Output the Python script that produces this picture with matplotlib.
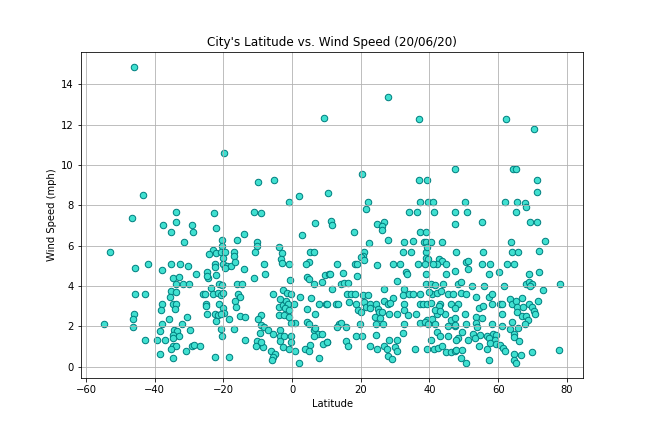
import matplotlib
matplotlib.use("Agg")
import matplotlib.pyplot as plt

# latitude / wind speed pairs
lat = [
    -46.0, -43.4, -33.8,
    -46.6, -53.0, -45.7, -41.8, -45.8, -42.8, -46.0, -46.3, -54.8, -46.3, -42.8,
    -37.7, -33.8, -29.1, -35.2, -28.8, -31.4, -37.9, -35.2, -32.6, -30.3, -28.1,
    -34.7, -32.9, -33.8, -31.7, -30.0, -35.2, -33.8, -35.5, -26.0, -37.9, -34.7,
    -33.8, -38.2, -34.1, -35.8, -30.6, -37.9, -32.0, -38.4, -34.4, -33.5, -29.7,
    -34.7, -32.9, -34.7, -39.3, -37.0, -34.7, -33.8, -35.2, -29.1, -28.5, -26.8,
    -30.9, -38.4, -34.7,
    9.4, -19.8, -9.9, -5.2, -0.9, 2.1, 10.4, -22.7, -11.0, -9.0,
    -22.1, -14.0, -16.0, -20.4, -10.2, -10.2, -10.8, -20.4, -23.0, -24.2, -22.1,
    -20.7, -19.5, -16.9, -16.9, -20.1, -22.4, -22.4, -20.1, -18.9, -17.7, -16.6,
    -19.5, -14.0, -22.1, -24.7, -24.4, -24.7, -11.0, -8.1, -7.8, -3.8, -2.9, -3.2,
    -2.9, -0.8, -0.6, 2.9, 6.7, 5.3, 6.4, 5.0, 4.1, 4.4, 5.0, 6.4, 8.8, 9.6, 10.8,
    -21.2, -20.4, -23.6, -25.3, -23.0, -21.5, -20.7, -20.1, -16.0, -14.5, -15.7,
    -15.1, -16.6, -16.3, -21.2, -25.0, -25.0, -20.1, -19.8, -24.7, -22.4, -21.5,
    -20.7, -22.1, -18.3, -15.1, -13.7, -20.7, -20.4, -16.9, -13.7, -22.4, -18.3,
    -5.5, -2.6, -1.4, -0.3, -3.5, -3.8, -2.6, -1.7, -1.1, -2.0, -0.8, -3.8, -2.4,
    -0.8, 0.6, 0.9, -0.3, -9.0, -9.9, -9.0, -8.1, -9.3, -7.0, -5.5, -3.5, -3.5,
    -2.4, -3.5, -0.4, -0.4, -10.2, -10.5, -8.4, -9.0, -2.6, -0.8, 0.9, -6.1, -4.9,
    -5.5, -5.8, 2.1, 2.4, 4.4, 6.7, 5.5, 7.9, 10.0, 4.4, 5.0, 6.4, 6.7, 7.6, 8.8,
    6.4, 10.3, 9.1, 5.3, 3.8, 5.0, 7.9,
    28.0, 37.0, 20.4, 37.0, 39.4, 47.5, 22.2, 21.6, 37.3, 39.7, 41.1, 34.1, 36.5,
    41.4, 47.5,
    11.4, 11.7, 18.1, 24.8, 26.8, 26.3, 26.3, 28.0, 22.5, 32.7, 35.1, 37.3, 39.1,
    38.5, 39.1, 40.5, 43.7, 47.5, 21.0, 20.7, 20.2, 21.0, 32.4, 34.7, 39.1, 39.4,
    39.1, 39.6, 42.9, 43.7, 44.9, 42.3, 13.1, 18.4, 19.0, 24.8, 29.5, 31.5, 36.8,
    38.8, 41.1, 11.1, 14.9, 19.0, 33.2, 33.5, 39.1, 44.9, 14.3, 15.2, 16.4, 30.6,
    32.7, 39.1, 40.5, 41.7, 44.0, 11.7, 26.8, 16.1, 17.2, 18.4, 20.7, 22.1, 29.5,
    32.4, 34.1, 35.3, 37.3, 40.8, 42.3, 43.4, 45.5, 46.7, 39.9, 10.1, 12.9, 13.4,
    16.6, 18.7, 21.0, 21.6, 22.8, 22.8, 24.5, 25.1, 26.8, 28.0, 28.6, 32.7, 37.1,
    38.2, 39.4, 40.5, 43.1, 42.9, 46.4, 19.3, 20.2, 25.4, 26.3, 32.7, 28.3, 30.4,
    33.8, 36.2, 42.3, 44.6, 41.7, 43.1, 24.2, 25.7, 39.4, 40.8, 46.4, 47.3, 13.7,
    14.3, 15.8, 13.1, 19.9, 24.5, 26.6, 32.7, 37.1, 38.8, 39.6, 41.7, 42.3, 43.1,
    45.5, 45.5, 47.5, 18.7, 20.4, 24.5, 32.4, 10.1, 15.8, 16.4, 22.8, 24.8, 26.8,
    28.3, 30.6, 27.7, 30.1, 30.4, 28.0, 29.2, 35.9, 39.4, 40.3, 41.4, 42.6, 43.7,
    44.9, 46.4, 47.5,
    62.4, 70.3, 64.2, 65.3, 71.2, 71.2, 50.2, 62.1, 65.6, 67.7, 68.0, 65.3, 51.0,
    55.4, 69.4, 71.4, 63.6, 73.5, 63.9, 65.9, 72.0, 55.7, 47.8, 50.5, 51.1, 51.1,
    55.4, 57.7, 62.6, 64.7, 47.5, 57.2, 60.1, 68.9, 72.0, 48.4, 49.3, 52.5, 56.0,
    61.8, 68.1, 69.0, 69.8, 69.3, 72.9, 78.1, 49.3, 50.7, 53.6, 57.2, 58.3, 48.4,
    47.5, 54.5, 55.7, 58.3, 60.4, 61.2, 63.3, 63.9, 65.3, 66.8, 65.6, 67.1, 69.1,
    69.7, 71.7, 70.3, 70.6, 65.6, 66.8, 68.2, 68.8, 67.9, 50.2, 53.6, 55.4, 61.2,
    64.0, 47.5, 50.7, 53.6, 53.9, 58.3, 61.2, 63.5, 65.9, 49.6, 52.8, 54.8, 56.6,
    58.6, 59.5, 64.6, 64.6, 48.4, 47.8, 51.3, 53.3, 57.2, 59.2, 66.2, 57.7, 59.5,
    60.4, 54.5, 56.8, 61.5, 62.1, 47.8, 49.6, 64.6, 66.5, 64.6, 65.2, 49.3, 50.5,
    57.3, 69.7, 77.6,
]

wind = [
    14.88, 8.52, 7.67,
    7.38, 5.69, 4.89, 5.09, 3.60, 3.60, 2.60, 2.36, 2.10, 1.96, 1.31,
    7.04, 7.18, 7.04, 6.70, 6.70, 6.20, 4.80, 5.09, 5.09, 4.99, 4.59,
    4.39, 4.44, 4.10, 4.10, 4.10, 3.75, 3.70, 3.45, 3.60, 3.10, 3.10,
    3.10, 2.80, 2.85, 2.36, 2.46, 2.10, 2.10, 1.76, 1.81, 1.76, 1.81,
    1.56, 1.51, 1.41, 1.31, 1.31, 1.01, 1.01, 0.86, 1.01, 1.06, 1.01,
    0.76, 0.62, 0.42,
    12.35, 10.60, 9.16, 9.26, 8.17, 8.47, 8.62, 7.60, 7.67, 7.64,
    6.88, 6.58, 6.28, 6.28, 6.18, 5.98, 5.68, 5.98, 5.78, 5.58, 5.63,
    5.68, 5.68, 5.68, 5.49, 5.39, 5.09, 4.94, 5.09, 4.99, 4.99, 5.19,
    4.89, 4.84, 4.54, 4.69, 4.39, 4.49, 4.39, 5.09, 4.59, 5.93, 5.63, 5.34,
    5.14, 5.09, 4.29, 6.53, 7.13, 5.68, 5.68, 5.19, 5.09, 4.44, 4.34, 4.09, 4.19, 4.54, 4.59,
    4.09, 4.04, 3.90, 3.60, 3.60, 3.65, 3.55, 3.65, 4.09, 4.09, 3.60,
    3.45, 3.25, 2.95, 3.10, 3.10, 3.00, 2.90, 2.65, 2.60, 2.60, 2.55,
    2.60, 2.25, 2.36, 2.50, 2.45, 1.86, 1.51, 1.86, 1.31, 0.47, 0.47,
    3.60, 3.80, 3.65, 3.60, 3.35, 2.95, 3.05, 3.25, 3.10, 2.90, 2.80, 2.55, 2.55,
    2.45, 3.10, 2.15, 2.15, 2.55, 2.36, 2.06, 1.96, 1.66, 1.81, 1.61, 1.81, 1.51,
    1.51, 1.26, 1.51, 1.21, 1.26, 1.01, 0.96, 1.21, 0.96, 0.86, 0.76, 0.76, 0.62,
    0.47, 0.32, 0.17, 3.45, 2.85, 2.60, 3.40, 3.10, 3.10, 2.20, 2.10, 1.81, 1.91, 1.61, 1.61,
    1.51, 1.21, 1.11, 1.06, 0.86, 0.76, 0.42,
    13.39, 12.30, 9.56, 9.26, 9.26, 9.81, 8.17, 7.82, 8.17, 8.17, 8.17, 7.67, 7.67,
    7.67, 7.67,
    7.23, 7.03, 6.68, 7.08, 7.18, 6.98, 6.78, 6.28, 6.13, 6.18, 6.23, 6.68, 6.68,
    6.18, 6.18, 6.18, 6.18, 7.08, 5.68, 5.49, 5.44, 5.29, 5.68, 5.68, 5.68, 5.93,
    5.39, 5.34, 5.34, 5.24, 5.09, 5.09, 5.09, 5.09, 5.09, 5.04, 5.09, 5.09, 5.09,
    5.09, 5.09, 4.59, 4.64, 4.49, 4.69, 4.59, 4.59, 4.59, 4.09, 4.14, 4.14, 4.24,
    3.84, 4.09, 4.09, 4.04, 4.09, 3.84, 3.84, 3.60, 3.60, 3.60, 3.55, 3.55, 3.40,
    3.55, 3.60, 3.60, 3.60, 3.60, 3.65, 3.75, 3.60, 3.60, 3.70, 3.10, 3.10, 3.10,
    3.20, 3.10, 3.20, 2.95, 3.10, 2.90, 3.10, 2.85, 3.25, 3.10, 3.15, 3.10, 3.10,
    3.10, 3.10, 3.15, 3.10, 3.00, 3.10, 2.80, 2.70, 2.70, 2.70, 2.80, 2.60, 2.60,
    2.55, 2.60, 2.60, 2.60, 2.80, 2.75, 2.45, 2.40, 2.30, 2.36, 2.30, 2.40, 2.10,
    2.15, 1.96, 1.96, 2.10, 2.10, 2.10, 2.10, 2.15, 2.20, 2.10, 2.10, 1.71, 1.51,
    2.01, 1.51, 2.01, 1.51, 1.51, 1.56, 1.66, 1.21, 1.26, 1.01, 1.01, 0.86, 1.01,
    1.31, 1.31, 0.86, 0.96, 0.76, 0.52, 0.37, 0.86, 0.86, 1.31, 0.86, 0.91, 1.01,
    0.71, 0.71, 0.76,
    12.30, 11.80, 9.81, 9.81, 9.26, 8.67, 8.17, 8.17, 8.17, 8.12, 7.92, 7.67, 7.67,
    7.18, 7.18, 7.18, 6.18, 6.23, 5.68, 5.68, 5.73, 5.68, 5.68, 5.19, 5.24, 4.84,
    5.09, 5.09, 5.09, 5.09, 4.74, 4.59, 4.69, 4.59, 4.69, 4.09, 4.19, 3.99, 3.99,
    3.99, 4.09, 4.19, 4.09, 3.99, 3.80, 4.09, 3.65, 3.60, 3.45, 3.45, 3.60, 3.10,
    2.90, 2.90, 3.00, 3.10, 3.10, 3.10, 3.35, 3.10, 3.25, 3.40, 2.95, 2.95, 3.10,
    2.95, 3.25, 2.75, 2.60, 2.70, 2.50, 2.50, 2.30, 2.10, 2.60, 2.45, 2.40, 2.60,
    2.20, 2.06, 2.10, 2.15, 1.96, 2.10, 2.01, 1.86, 1.91, 1.71, 1.61, 1.56, 1.51,
    1.61, 1.56, 1.61, 1.46, 1.41, 1.31, 1.31, 1.41, 1.41, 1.31, 1.26, 1.16, 1.11,
    1.06, 1.01, 0.86, 0.91, 0.76, 0.81, 0.81, 0.62, 0.57, 0.32, 0.17, 0.42, 0.17,
    0.32, 0.71, 0.81,
]

fig = plt.figure(figsize=(9, 6), dpi=72)
ax = fig.add_axes([0.125, 0.125, 0.775, 0.755])
ax.scatter(lat, wind, s=42, facecolor="turquoise", edgecolor="teal", linewidth=1)
ax.set_title("City's Latitude vs. Wind Speed (20/06/20)", fontsize=12)
ax.set_xlabel("Latitude", fontsize=10)
ax.set_ylabel("Wind Speed (mph)", fontsize=10)
ax.tick_params(labelsize=10)
ax.grid(True, color="#b0b0b0", linewidth=0.8)
fig.savefig("out.png", dpi=72)
